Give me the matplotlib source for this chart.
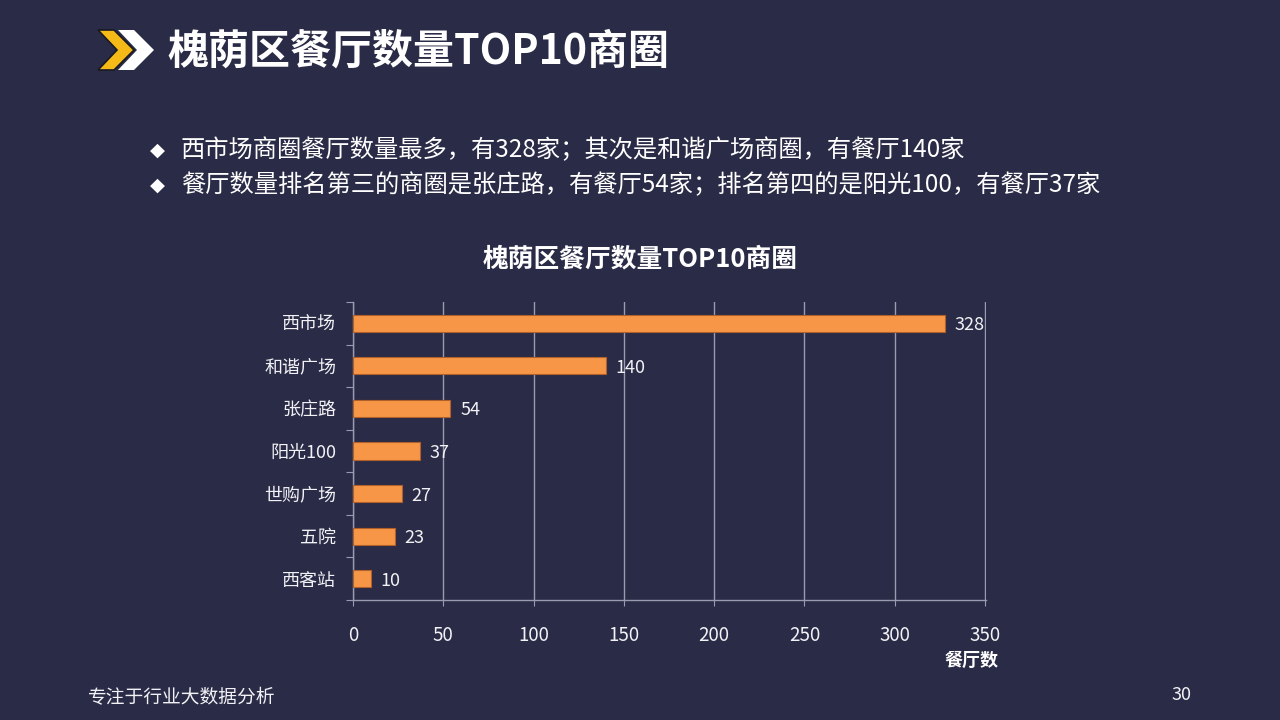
import matplotlib.pyplot as plt
from matplotlib.patches import Polygon

plt.rcParams['font.family'] = ['Noto Sans CJK SC', 'DejaVu Sans']

# data
categories = ['西市场', '和谐广场', '张庄路', '阳光100', '世购广场', '五院', '西客站']
counts = [328, 140, 54, 37, 27, 23, 10]
x_ticks = [0, 50, 100, 150, 200, 250, 300, 350]

title = '槐荫区餐厅数量TOP10商圈'
bullets = ['西市场商圈餐厅数量最多，有328家；其次是和谐广场商圈，有餐厅140家',
           '餐厅数量排名第三的商圈是张庄路，有餐厅54家；排名第四的是阳光100，有餐厅37家']
footer = '专注于行业大数据分析'
page_no = '30'

bg = '#2a2b46'
bar_color = '#f79646'
grid_color = '#9a9bb0'
text_color = '#f2f2f6'

fig = plt.figure(figsize=(12.8, 7.2), dpi=100, facecolor=bg)

# chevron icon in the header (pixel coords -> figure fraction)
def px(x, y):
    return (x / 1280, 1 - y / 720)

yellow = [px(*p) for p in [(98, 30), (114, 30), (134, 50), (114, 70), (98, 70), (117, 50)]]
white = [px(*p) for p in [(118, 30), (134, 30), (154, 50), (134, 70), (118, 70), (137, 50)]]
fig.patches.append(Polygon(yellow, closed=True, transform=fig.transFigure,
                           facecolor='#f5b918', edgecolor='#1a1a22', lw=1.2))
fig.patches.append(Polygon(white, closed=True, transform=fig.transFigure,
                           facecolor='#ffffff', edgecolor='none'))

fig.text(167 / 1280, 1 - 52 / 720, title, color='white', fontsize=29.5,
         fontweight='bold', va='center', ha='left')

for i, line in enumerate(bullets):
    y = 1 - (150 + 35 * i) / 720
    fig.text(150 / 1280, y, '◆', color='white', fontsize=14, va='center',
             ha='left', family=['DejaVu Sans'])
    fig.text(181 / 1280, y, line, color='white', fontsize=17.5, va='center', ha='left')

fig.text(88 / 1280, 1 - 698 / 720, footer, color=text_color, fontsize=13.5, va='center')
fig.text(1182 / 1280, 1 - 695 / 720, page_no, color=text_color, fontsize=13,
         va='center', ha='center')

# chart
ax = fig.add_axes([353 / 1280, 1 - 600 / 720, 633 / 1280, 298 / 720])
ax.set_facecolor(bg)

n = len(categories)
pos = list(range(n - 1, -1, -1))
ax.barh(pos, counts, height=0.4, color=bar_color, edgecolor='#b0602a', lw=0.8, zorder=3)
for p, v in zip(pos, counts):
    ax.annotate(str(v), (v, p), xytext=(7, 0), textcoords='offset points',
                va='center_baseline', ha='left', color=text_color, fontsize=13)

ax.set_xlim(0, 350.6)
ax.set_ylim(-0.5, n - 0.5)
ax.set_xticks(x_ticks)
ax.set_xticklabels([str(t) for t in x_ticks])
ax.xaxis.grid(True, color=grid_color, lw=1, zorder=0)

ax.set_yticks([b - 0.5 for b in range(n + 1)])
ax.set_yticklabels([])
ax.set_yticks(pos, minor=True)
ax.set_yticklabels(categories, minor=True)
ax.tick_params(axis='y', which='major', length=5, color=grid_color, direction='out')
ax.tick_params(axis='y', which='minor', length=0, pad=12, labelcolor=text_color, labelsize=13)
ax.tick_params(axis='x', length=4, color=grid_color, labelcolor=text_color,
               labelsize=13.5, pad=14)

for s in ['top', 'right']:
    ax.spines[s].set_visible(False)
for s in ['left', 'bottom']:
    ax.spines[s].set_color(grid_color)
    ax.spines[s].set_linewidth(1)

fig.text(640 / 1280, 1 - 259 / 720, title, color='white', fontsize=18.5,
         fontweight='bold', ha='center', va='center')
fig.text(972 / 1280, 1 - 660 / 720, '餐厅数', color='white', fontsize=13,
         fontweight='bold', ha='center', va='center')

fig.savefig('out.png', dpi=100, facecolor=bg)
